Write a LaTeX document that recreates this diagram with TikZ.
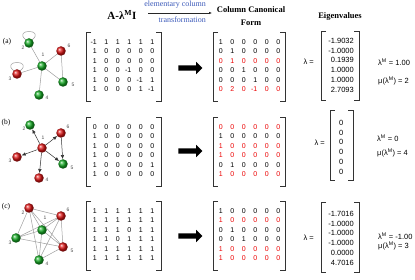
\documentclass[tikz,border=0pt]{standalone}
\usepackage{fontspec}
\setmainfont{Liberation Serif}
\setsansfont{Liberation Sans}
\usetikzlibrary{arrows.meta,shapes.arrows}
\definecolor{gballc}{RGB}{20,170,35}
\definecolor{rballc}{RGB}{220,20,20}
\definecolor{redtxt}{RGB}{235,0,0}
\definecolor{bluetxt}{RGB}{60,90,185}
\tikzset{
  ball/.style={circle, minimum size=9.5pt, inner sep=0pt},
  gball/.style={ball, ball color=gballc},
  rball/.style={ball, ball color=rballc},
  nlab/.style={font=\sffamily\fontsize{5}{6}\selectfont, text=gray!60!black, inner sep=0pt},
  gline/.style={draw=gray!75, line width=0.5pt},
  darr/.style={draw=gray!40!black, line width=0.5pt, -{Latex[length=4pt,width=3.5pt]}},
  digit/.style={font=\sffamily\fontsize{7}{8}\selectfont, anchor=mid east, inner sep=0pt},
  eig/.style={font=\sffamily\fontsize{7.5}{8}\selectfont, anchor=mid east, inner sep=0pt},
  info/.style={font=\sffamily\fontsize{7.5}{8}\selectfont, inner sep=0pt},
  brk/.style={draw=black!80, line width=0.8pt},
  head/.style={font=\bfseries\fontsize{8.5}{13}\selectfont, align=center, inner sep=0pt},
  blab/.style={font=\fontsize{8}{9}\selectfont, text=bluetxt, inner sep=0pt},
  plab/.style={font=\fontsize{7.5}{8}\selectfont, inner sep=0pt},
  bigarrow/.style={single arrow, fill=black, draw=none, inner sep=2.5pt, minimum height=24pt, single arrow head extend=3.5pt, single arrow head indent=0pt},
}
% row of 6 entries: #1 x of first column, #2 y, #3 colour, #4 name, #5 entries
\newcommand{\mrow}[5]{%
  \foreach \v [count=\c] in {#5} {
    \node[digit, text=#3] (#4-\c) at ({#1+2+(\c-1)*11.5}, #2) {\v};
  }%
}
\newcommand{\brkpair}[4]{% left x, right x, top, bottom
  \draw[brk] ({#1+5},#3) -- (#1,#3) -- (#1,#4) -- ({#1+5},#4);
  \draw[brk] ({#2-5},#3) -- (#2,#3) -- (#2,#4) -- ({#2-5},#4);
}
\begin{document}
\begin{tikzpicture}[x=1pt, y=-1pt]
\useasboundingbox (0,0) rectangle (415,280);

% ---------- headers ----------
\node[font=\bfseries\fontsize{11}{12}\selectfont, inner sep=0pt] (hA) at (122,15) {A-λ\textsuperscript{M}I};
\node[blab, anchor=east] (hel) at (206,5) {elementary column};
\node[blab, anchor=east] (htr) at (206,20) {transformation};
\coordinate (t1) at (148,13);
\coordinate (t2) at (212,13);
\draw[draw=gray!30!black, line width=0.5pt, -{Latex[length=3pt,width=2.5pt]}] (t1) -- (t2);
\node[head] (hC) at (251,16.5) {Column Canonical\\Form};
\node[head] (hE) at (340,16) {Eigenvalues};

% ---------- graph (a) ----------
\node[plab] (pa) at (7,42) {(a)};
\coordinate (a1) at (42,66);
\coordinate (a2) at (29,43);
\coordinate (a3) at (17,74);
\coordinate (a4) at (39,95);
\coordinate (a5) at (63,82);
\coordinate (a6) at (61,51);
\draw[gline] (a1) -- (a2) (a1) -- (a3) (a1) -- (a4) (a1) -- (a5) (a1) -- (a6) (a6) -- (a5);
\draw[gline] ([shift={(-3.3,-3.3)}]a2) .. controls +(-13,-11) and +(13,-11) .. ([shift={(3.3,-3.3)}]a2);
\draw[gline] ([shift={(-3.3,-3.3)}]a3) .. controls +(-13,-11) and +(13,-11) .. ([shift={(3.3,-3.3)}]a3);
\node[gball] (m1) at (a1) {};
\node[gball] (m2) at (a2) {};
\node[rball] (m3) at (a3) {};
\node[gball] (m4) at (a4) {};
\node[gball] (m5) at (a5) {};
\node[rball] (m6) at (a6) {};
\node[nlab] (la1) at (43,55) {1};
\node[nlab] (la2) at (23,48) {2};
\node[nlab] (la3) at (10,79) {3};
\node[nlab] (la4) at (47,98) {4};
\node[nlab] (la5) at (73,85) {5};
\node[nlab] (la6) at (69,46) {6};

% ---------- graph (b) ----------
\node[plab] (pb) at (6,123) {(b)};
\node[rball] (b1) at (42,148) {};
\node[gball] (b2) at (30,125) {};
\node[rball] (b3) at (17,157) {};
\node[rball] (b4) at (39,178) {};
\node[gball] (b5) at (63,164) {};
\node[rball] (b6) at (61,133) {};
\draw[darr] (b1) -- (b2);
\draw[darr] (b1) -- (b3);
\draw[darr] (b1) -- (b4);
\draw[darr] (b1) -- (b5);
\draw[darr] (b1) -- (b6);
\draw[darr] (b6) -- (b5);
\node[nlab] (lb1) at (43,138) {1};
\node[nlab] (lb2) at (24,129) {2};
\node[nlab] (lb3) at (10,161) {3};
\node[nlab] (lb4) at (47,180) {4};
\node[nlab] (lb5) at (72,168) {5};
\node[nlab] (lb6) at (68,127) {6};

% ---------- graph (c) ----------
\node[plab] (pc) at (6,207) {(c)};
\coordinate (c1) at (42,230);
\coordinate (c2) at (29,208);
\coordinate (c3) at (16,238);
\coordinate (c4) at (39,260);
\coordinate (c5) at (63,247);
\coordinate (c6) at (61,216);
\draw[gline] (c1) -- (c2) (c1) -- (c3) (c1) -- (c4) (c1) -- (c5) (c1) -- (c6)
  (c2) -- (c3) (c2) -- (c4) (c2) -- (c5) (c2) -- (c6)
  (c3) -- (c5) (c3) -- (c6)
  (c4) -- (c5) (c4) -- (c6)
  (c5) -- (c6);
\node[gball] (n1) at (c1) {};
\node[rball] (n2) at (c2) {};
\node[gball] (n3) at (c3) {};
\node[gball] (n4) at (c4) {};
\node[rball] (n5) at (c5) {};
\node[rball] (n6) at (c6) {};
\node[nlab] (lc1) at (45,218) {1};
\node[nlab] (lc2) at (23,213) {2};
\node[nlab] (lc3) at (10,243) {3};
\node[nlab] (lc4) at (47,264) {4};
\node[nlab] (lc5) at (72,251) {5};
\node[nlab] (lc6) at (68,210) {6};

% ---------- A - lambda I matrices ----------
\brkpair{86}{161}{32}{101}
\mrow{95}{42}{black}{Aa1}{-1,1,1,1,1,1}
\mrow{95}{51.5}{black}{Aa2}{1,0,0,0,0,0}
\mrow{95}{61}{black}{Aa3}{1,0,0,0,0,0}
\mrow{95}{70.5}{black}{Aa4}{1,0,0,-1,0,0}
\mrow{95}{80}{black}{Aa5}{1,0,0,0,-1,1}
\mrow{95}{89.5}{black}{Aa6}{1,0,0,0,1,-1}

\brkpair{86}{161}{117}{186}
\mrow{95}{127}{black}{Ab1}{0,0,0,0,0,0}
\mrow{95}{136.5}{black}{Ab2}{1,0,0,0,0,0}
\mrow{95}{146}{black}{Ab3}{1,0,0,0,0,0}
\mrow{95}{155.5}{black}{Ab4}{1,0,0,0,0,0}
\mrow{95}{165}{black}{Ab5}{1,0,0,0,0,1}
\mrow{95}{174.5}{black}{Ab6}{1,0,0,0,0,0}

\brkpair{86}{161}{201}{270}
\mrow{95}{211}{black}{Ac1}{1,1,1,1,1,1}
\mrow{95}{220.5}{black}{Ac2}{1,1,1,1,1,1}
\mrow{95}{230}{black}{Ac3}{1,1,1,0,1,1}
\mrow{95}{239.5}{black}{Ac4}{1,1,0,1,1,1}
\mrow{95}{249}{black}{Ac5}{1,1,1,1,1,1}
\mrow{95}{258.5}{black}{Ac6}{1,1,1,1,1,1}

% ---------- big arrows ----------
\node[bigarrow] (ba) at (189,68) {};
\node[bigarrow] (bb) at (189,151) {};
\node[bigarrow] (bc) at (189,236) {};

% ---------- canonical forms ----------
\brkpair{213}{285}{32}{101}
\mrow{221}{42}{black}{Ca1}{1,0,0,0,0,0}
\mrow{221}{51.5}{black}{Ca2}{0,1,0,0,0,0}
\mrow{221}{61}{redtxt}{Ca3}{0,1,0,0,0,0}
\mrow{221}{70.5}{black}{Ca4}{0,0,1,0,0,0}
\mrow{221}{80}{black}{Ca5}{0,0,0,1,0,0}
\mrow{221}{89.5}{redtxt}{Ca6}{0,2,0,-1,0,0}

\brkpair{213}{285}{117}{186}
\mrow{221}{127}{redtxt}{Cb1}{0,0,0,0,0,0}
\mrow{221}{136.5}{black}{Cb2}{1,0,0,0,0,0}
\mrow{221}{146}{redtxt}{Cb3}{1,0,0,0,0,0}
\mrow{221}{155.5}{redtxt}{Cb4}{1,0,0,0,0,0}
\mrow{221}{165}{black}{Cb5}{0,1,0,0,0,0}
\mrow{221}{174.5}{redtxt}{Cb6}{1,0,0,0,0,0}

\brkpair{213}{285}{201}{270}
\mrow{221}{211}{black}{Cc1}{1,0,0,0,0,0}
\mrow{221}{220.5}{redtxt}{Cc2}{1,0,0,0,0,0}
\mrow{221}{230}{black}{Cc3}{0,1,0,0,0,0}
\mrow{221}{239.5}{black}{Cc4}{0,0,1,0,0,0}
\mrow{221}{249}{redtxt}{Cc5}{1,0,0,0,0,0}
\mrow{221}{258.5}{redtxt}{Cc6}{1,0,0,0,0,0}

% ---------- eigenvalues ----------
\brkpair{321}{359}{31}{100}
\node[info, anchor=east] (lama) at (314,62) {λ =};
\node[eig] (ea1) at (354,41) {-1.9032};
\node[eig] (ea2) at (354,50.8) {-1.0000};
\node[eig] (ea3) at (354,60.6) {0.1939};
\node[eig] (ea4) at (354,70.4) {1.0000};
\node[eig] (ea5) at (354,80.2) {1.0000};
\node[eig] (ea6) at (354,90) {2.7093};
\node[info, anchor=west] (ma) at (378,62) {λ\textsuperscript{M} = 1.00};
\node[info, anchor=west] (mua) at (378,81) {μ(λ\textsuperscript{M}) = 2};

\brkpair{330}{353}{110}{180}
\node[info, anchor=east] (lamb) at (325,143) {λ =};
\node[eig] (eb1) at (343.5,123) {0};
\node[eig] (eb2) at (343.5,132.8) {0};
\node[eig] (eb3) at (343.5,142.6) {0};
\node[eig] (eb4) at (343.5,152.4) {0};
\node[eig] (eb5) at (343.5,162.2) {0};
\node[eig] (eb6) at (343.5,172) {0};
\node[info, anchor=west] (mb) at (377,138) {λ\textsuperscript{M} = 0};
\node[info, anchor=west] (mub) at (377,153) {μ(λ\textsuperscript{M}) = 4};

\brkpair{321}{359}{202}{272}
\node[info, anchor=east] (lamc) at (314,238) {λ =};
\node[eig] (ec1) at (354,214) {-1.7016};
\node[eig] (ec2) at (354,223.8) {-1.0000};
\node[eig] (ec3) at (354,233.6) {-1.0000};
\node[eig] (ec4) at (354,243.4) {-1.0000};
\node[eig] (ec5) at (354,253.2) {0.0000};
\node[eig] (ec6) at (354,263) {4.7016};
\node[info, anchor=west] (mc) at (378,236) {λ\textsuperscript{M} = -1.00};
\node[info, anchor=west] (muc) at (378,246) {μ(λ\textsuperscript{M}) = 3};
\end{tikzpicture}
\end{document}
